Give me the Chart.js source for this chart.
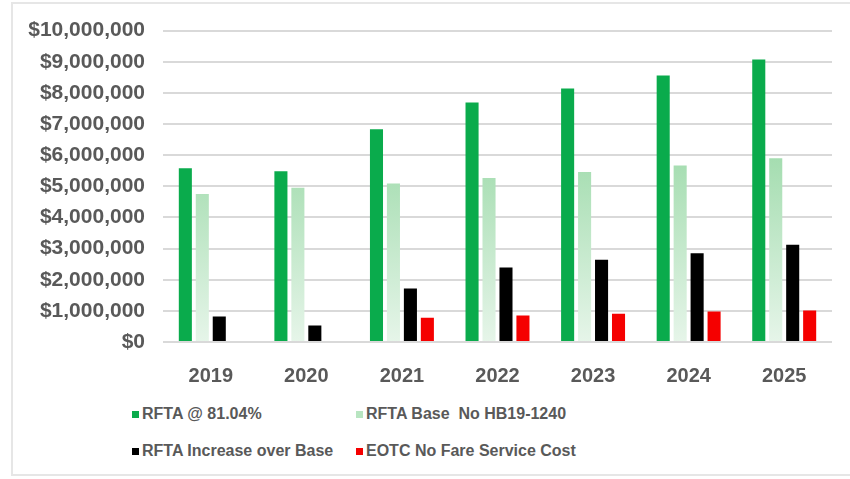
<!DOCTYPE html>
<html>
<head>
<meta charset="utf-8">
<script src="https://cdn.jsdelivr.net/npm/chart.js@4/dist/chart.umd.min.js"></script>
<style>
  html, body { margin: 0; padding: 0; background: #fff; }
  #wrap {
    position: relative; width: 850px; height: 479px; overflow: hidden;
    font-family: "Liberation Sans", Arial, sans-serif;
  }
  #frame {
    position: absolute; left: 11px; top: 2px; width: 850px; height: 474px;
    border: 2px solid #e6e6e6; box-sizing: border-box;
  }
  #chartBox { position: absolute; left: 0; top: 0; width: 850px; height: 390px; }
  #legend { position: absolute; left: 0; top: 0; }
  .item {
    position: absolute; display: flex; align-items: center;
    font-size: 16px; font-weight: bold; color: #595959; white-space: pre;
  }
  .swatch { width: 7px; height: 7px; margin-right: 3px; }
</style>
</head>
<body>
<div id="wrap">
  <div id="frame"></div>
  <div id="chartBox"><canvas id="costChart"></canvas></div>
  <div id="legend"></div>
</div>
<script>
const years = ['2019', '2020', '2021', '2022', '2023', '2024', '2025'];
const rftaFull = [5580000, 5480000, 6830000, 7690000, 8140000, 8560000, 9070000];
const rftaBase = [4750000, 4950000, 5090000, 5270000, 5460000, 5670000, 5900000];
const rftaIncrease = [820000, 530000, 1720000, 2390000, 2640000, 2850000, 3120000];
const eotcCost = [null, null, 780000, 850000, 910000, 980000, 1010000];
const seriesNames = ['RFTA @ 81.04%', 'RFTA Base  No HB19-1240', 'RFTA Increase over Base', 'EOTC No Fare Service Cost'];

const canvas = document.getElementById('costChart');
const ctx = canvas.getContext('2d');

// light green fades towards the bottom, like the original
function baseGradient(context) {
  const area = context.chart.chartArea;
  if (!area) return '#a8dfb3';
  const g = ctx.createLinearGradient(0, area.top + 120, 0, area.bottom);
  g.addColorStop(0, '#a2dcae');
  g.addColorStop(1, '#e6f5e9');
  return g;
}

const tickFont = { family: '"Liberation Sans", Arial, sans-serif', size: 20, weight: 'bold' };

const chart = new Chart(canvas, {
  type: 'bar',
  data: {
    labels: years,
    datasets: [
      { label: seriesNames[0], data: rftaFull, backgroundColor: '#0aab4c' },
      { label: seriesNames[1], data: rftaBase, backgroundColor: baseGradient },
      { label: seriesNames[2], data: rftaIncrease, backgroundColor: '#000000' },
      { label: seriesNames[3], data: eotcCost, backgroundColor: '#f50000' },
    ],
  },
  options: {
    responsive: true,
    maintainAspectRatio: false,
    animation: false,
    layout: { padding: { top: 28, right: 18, left: 0, bottom: 0 } },
    datasets: { bar: { categoryPercentage: 0.71, barPercentage: 0.77 } },
    scales: {
      x: {
        grid: { display: false },
        border: { display: false },
        ticks: { color: '#595959', font: tickFont, padding: 14 },
        afterFit: (scale) => { scale.height = 48; },
      },
      y: {
        min: 0,
        max: 10000000,
        ticks: {
          stepSize: 1000000,
          color: '#595959',
          font: { ...tickFont, size: 21 },
          padding: 18,
          callback: (v) => '$' + v.toLocaleString('en-US'),
        },
        grid: { color: '#d9d9d9', lineWidth: 2, drawTicks: false },
        border: { display: false },
        afterFit: (scale) => { scale.width = 163; },
      },
    },
    plugins: {
      legend: { display: false },
      tooltip: { enabled: false },
    },
  },
});

// Legend in two columns below the chart
const legendEl = document.getElementById('legend');
const swatchColors = ['#0aab4c', '#b8e5c1', '#000000', '#f50000'];
const spots = [[132, 415], [356, 415], [132, 452], [356, 452]];
chart.data.datasets.forEach((ds, i) => {
  const item = document.createElement('div');
  item.className = 'item';
  item.style.left = spots[i][0] + 'px';
  item.style.top = (spots[i][1] - 10) + 'px';
  const sw = document.createElement('span');
  sw.className = 'swatch';
  sw.style.background = swatchColors[i];
  item.appendChild(sw);
  item.appendChild(document.createTextNode(ds.label));
  legendEl.appendChild(item);
});
</script>
</body>
</html>
